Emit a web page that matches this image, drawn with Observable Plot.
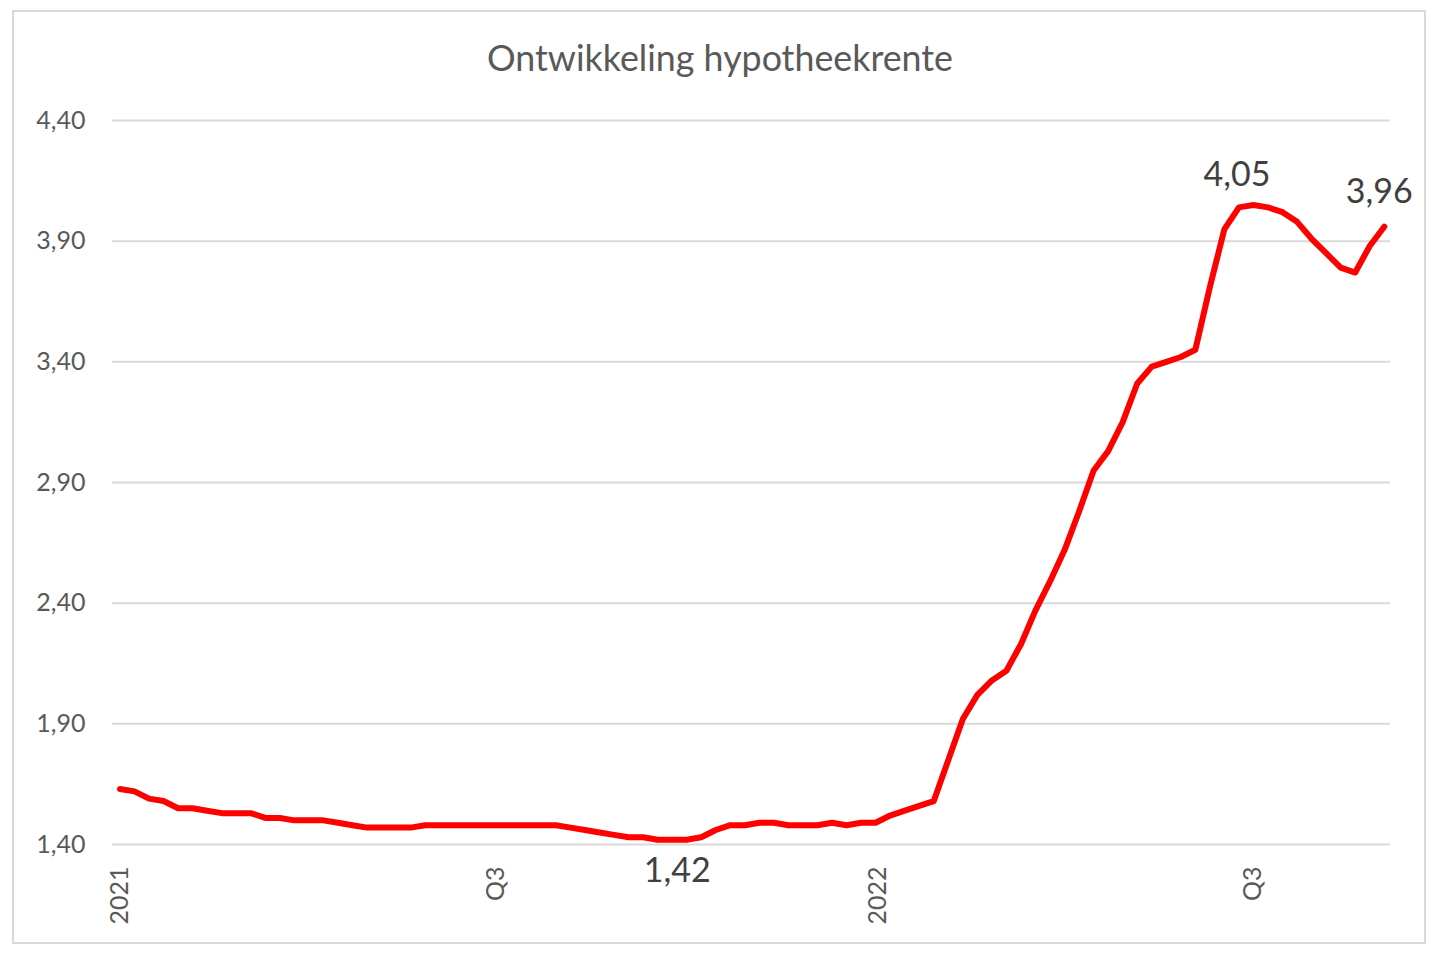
<!DOCTYPE html>
<html>
<head>
<meta charset="utf-8">
<script src="https://cdn.jsdelivr.net/npm/d3@7"></script>
<script src="https://cdn.jsdelivr.net/npm/@observablehq/plot@0.6"></script>
<style>
  html, body { margin: 0; padding: 0; background: #fff; }
  #wrap { position: relative; width: 1440px; height: 958px; overflow: hidden; }
  #frame { position: absolute; left: 12px; top: 10px; width: 1414px; height: 934px; box-sizing: border-box; border: 2px solid #d9d9d9; }
  #title { position: absolute; left: 0; top: 0; width: 1440px; height: 100px; text-align: center; font-family: Lato, "Open Sans", sans-serif; font-size: 35.8px; color: #595959; line-height: 116px; }
  #chart { position: absolute; left: 0; top: 100px; }
</style>
</head>
<body>
<div id="wrap">
  <div id="frame"></div>
  <div id="title">Ontwikkeling hypotheekrente</div>
  <div id="chart"></div>
</div>
<script>
// Weekly mortgage rate (%), first week starting 2021-01-01
const startDate = "2021-01-01";
const rates = [
  1.63, 1.62, 1.59, 1.58, 1.55, 1.55, 1.54, 1.53, 1.53, 1.53,
  1.51, 1.51, 1.50, 1.50, 1.50, 1.49, 1.48, 1.47, 1.47, 1.47,
  1.47, 1.48, 1.48, 1.48, 1.48, 1.48, 1.48, 1.48, 1.48, 1.48,
  1.48, 1.47, 1.46, 1.45, 1.44, 1.43, 1.43, 1.42, 1.42, 1.42,
  1.43, 1.46, 1.48, 1.48, 1.49, 1.49, 1.48, 1.48, 1.48, 1.49,
  1.48, 1.49, 1.49, 1.52, 1.54, 1.56, 1.58, 1.75, 1.92, 2.02,
  2.08, 2.12, 2.23, 2.37, 2.49, 2.62, 2.78, 2.95, 3.03, 3.15,
  3.31, 3.38, 3.40, 3.42, 3.45, 3.71, 3.95, 4.04, 4.05, 4.04,
  4.02, 3.98, 3.91, 3.85, 3.79, 3.77, 3.88, 3.96
];
// Value labels: week index, text
const labelIndex = [38, 77, 87];
const labelText = ["1,42", "4,05", "3,96"];
// Axis ticks
const yTicks = [1.40, 1.90, 2.40, 2.90, 3.40, 3.90, 4.40];
const xTickDates = ["2021-01-01", "2021-07-01", "2022-01-01", "2022-07-01"];
const xTickLabels = ["2021", "Q3", "2022", "Q3"];

const t0 = new Date(startDate + "T00:00:00Z");
const data = rates.map((v, i) => ({date: d3.utcDay.offset(t0, 7 * i), value: v}));
const labelDy = [31, -32, -35];
const labelDx = [5, -2, -5];
const labels = labelIndex.map((idx, k) => ({date: data[idx].date, value: data[idx].value, text: labelText[k], dy: labelDy[k], dx: labelDx[k]}));
const xticks = xTickDates.map((d, i) => ({date: new Date(d + "T00:00:00Z"), label: xTickLabels[i]}));

const fmt = v => d3.format(".2f")(v).replace(".", ",");
const font = "Lato, 'Open Sans', sans-serif";

const chart = Plot.plot({
  width: 1440,
  height: 858,
  marginLeft: 112,
  marginRight: 50,
  marginTop: 20,
  marginBottom: 114,
  style: {fontFamily: font, background: "transparent"},
  x: {type: "utc", domain: [d3.utcHour.offset(t0, -86), d3.utcDay.offset(t0, 612)], axis: null},
  y: {domain: [1.40, 4.40], ticks: yTicks, axis: null},
  marks: [
    Plot.ruleY(yTicks, {stroke: "#d9d9d9", strokeWidth: 2}),
    Plot.axisY({ticks: yTicks, tickSize: 0, tickPadding: 27, tickFormat: fmt, fontSize: 25, color: "#595959", label: null}),
    Plot.text(xticks, {x: "date", frameAnchor: "bottom", dy: 22, rotate: -90, textAnchor: "end", lineAnchor: "middle", text: "label", fontSize: 25, fill: "#595959"}),
    Plot.line(data, {x: "date", y: "value", stroke: "#ff0000", strokeWidth: 6, strokeLinejoin: "round", strokeLinecap: "round"}),
    ...labels.map(l => Plot.text([l], {x: "date", y: "value", text: "text", fontSize: 34, fill: "#404040", dy: l.dy, dx: l.dx, lineAnchor: "middle"}))
  ]
});
document.getElementById("chart").appendChild(chart);
</script>
</body>
</html>
